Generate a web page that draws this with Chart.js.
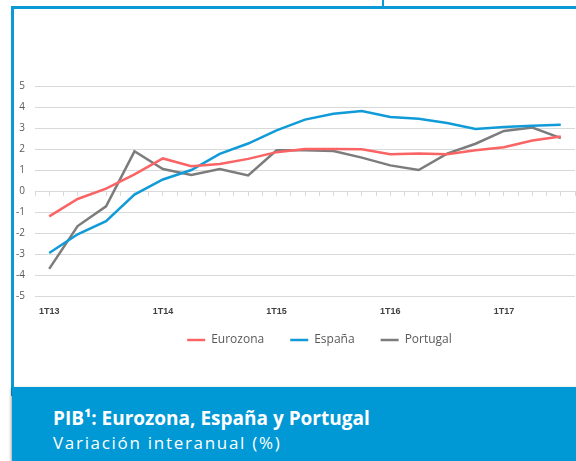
<!DOCTYPE html>
<html>
<head>
<meta charset="utf-8">
<script src="https://cdn.jsdelivr.net/npm/chart.js@4.4.0/dist/chart.umd.min.js"></script>
<style>
  html, body { margin: 0; padding: 0; background: #fff; }
  #pagina { position: relative; width: 576px; height: 461px; overflow: hidden; font-family: "Open Sans", sans-serif; }
  #marco { position: absolute; left: 11px; top: 6px; width: 600px; height: 390px; box-sizing: border-box;
           border-top: 3px solid #0b9ad6; border-left: 3px solid #0b9ad6; }
  #marca { position: absolute; left: 382px; top: 0; width: 2px; height: 8px; background: #0b9ad6; }
  #grafico { position: absolute; left: 14px; top: 10px; width: 562px; height: 365px; }
  #pie { position: absolute; left: 12px; top: 387px; width: 580px; height: 80px; background: #0098d5;
         border-bottom-left-radius: 8px; box-shadow: -1px 1px 3px rgba(0,0,0,0.35); }
  #titulo { position: absolute; left: 53px; top: 409px; color: #fff; font-weight: bold; font-size: 19px; line-height: 19px; white-space: nowrap; }
  #subtitulo { position: absolute; left: 53px; top: 434px; color: #fff; font-size: 17px; line-height: 17px; letter-spacing: 1.7px; white-space: nowrap; }
</style>
</head>
<body>
<div id="pagina">
  <div id="marca"></div>
  <div id="marco"></div>
  <div id="grafico"><canvas id="pibChart"></canvas></div>
  <div id="pie"></div>
  <div id="titulo">PIB¹: Eurozona, España y Portugal</div>
  <div id="subtitulo">Variación interanual (%)</div>
</div>
<script>
// Trimestres (1T13 - 3T17)
const trimestres = ['1T13', '2T13', '3T13', '4T13', '1T14', '2T14', '3T14', '4T14', '1T15', '2T15',
                    '3T15', '4T15', '1T16', '2T16', '3T16', '4T16', '1T17', '2T17', '3T17'];
const eurozona = [-1.21, -0.38, 0.11, 0.79, 1.55, 1.18, 1.29, 1.53, 1.85, 2.0,
                  2.0, 1.99, 1.75, 1.79, 1.75, 1.94, 2.08, 2.40, 2.59];
const espana   = [-2.95, -2.06, -1.44, -0.17, 0.55, 1.0, 1.77, 2.26, 2.89, 3.40,
                  3.68, 3.81, 3.52, 3.44, 3.24, 2.95, 3.05, 3.11, 3.16];
const portugal = [-3.71, -1.67, -0.73, 1.89, 1.05, 0.76, 1.05, 0.74, 1.94, 1.94,
                  1.90, 1.59, 1.22, 1.0, 1.78, 2.25, 2.86, 3.02, 2.52];
const ejeY = { min: -5, max: 5, paso: 1 };
const etiquetasCada = 4; // una etiqueta por año

const puntos = serie => serie.map((v, i) => ({ x: i, y: v }));

// coloca la leyenda como en el original (algo a la derecha y más arriba)
const moverLeyenda = {
    id: 'moverLeyenda',
    afterLayout(chart) {
        const l = chart.legend;
        l.left += 25; l.right += 25;
        l.top -= 8; l.bottom -= 8;
    }
};

const ctx = document.getElementById('pibChart').getContext('2d');
new Chart(ctx, {
    type: 'line',
    data: {
        datasets: [
            { label: 'Eurozona', data: puntos(eurozona), borderColor: '#fa6464', backgroundColor: '#fa6464' },
            { label: 'España', data: puntos(espana), borderColor: '#109bd8', backgroundColor: '#109bd8' },
            { label: 'Portugal', data: puntos(portugal), borderColor: '#7c7c7c', backgroundColor: '#7c7c7c' }
        ].map(d => Object.assign(d, { xAxisID: 'x', yAxisID: 'y', borderWidth: 2.5, pointRadius: 0, tension: 0 }))
    },
    options: {
        responsive: true,
        maintainAspectRatio: false,
        animation: false,
        layout: { padding: { top: 76, bottom: 11, left: 0, right: 1 } },
        plugins: {
            tooltip: { enabled: false },
            legend: {
                position: 'bottom',
                labels: {
                    usePointStyle: true,
                    pointStyle: 'line',
                    pointStyleWidth: 18,
                    padding: 26,
                    color: '#595959',
                    font: { family: 'Open Sans', size: 12 }
                }
            }
        },
        scales: {
            x: {
                type: 'linear',
                position: 'bottom',
                min: -0.5,
                max: trimestres.length - 0.5,
                grid: { display: false, drawTicks: false },
                border: { display: false },
                afterBuildTicks: s => {
                    s.ticks = trimestres.map((t, i) => ({ value: i })).filter(t => t.value % etiquetasCada === 0);
                },
                afterFit: s => { s.height = 20; },
                ticks: {
                    autoSkip: false,
                    maxRotation: 0,
                    padding: 10,
                    color: '#404040',
                    font: { family: 'Liberation Sans', size: 9, weight: 'bold' },
                    callback: v => trimestres[v]
                }
            },
            xMarcas: {
                type: 'linear',
                axis: 'x',
                position: { y: 0 },
                min: -0.5,
                max: trimestres.length - 0.5,
                grid: { drawOnChartArea: false, tickLength: 4, color: '#d9d9d9' },
                border: { color: '#d9d9d9' },
                ticks: { display: false },
                afterBuildTicks: s => {
                    const t = [];
                    for (let v = -0.5; v <= trimestres.length - 0.5; v += 0.5) t.push({ value: v });
                    s.ticks = t;
                }
            },
            y: {
                min: ejeY.min,
                max: ejeY.max,
                grid: { color: '#d9d9d9', drawTicks: false },
                border: { display: false },
                afterFit: s => { s.width = 21; },
                ticks: {
                    stepSize: ejeY.paso,
                    padding: 10,
                    color: '#595959',
                    font: { family: 'Open Sans', size: 10 }
                }
            }
        }
    },
    plugins: [moverLeyenda]
});
</script>
</body>
</html>
